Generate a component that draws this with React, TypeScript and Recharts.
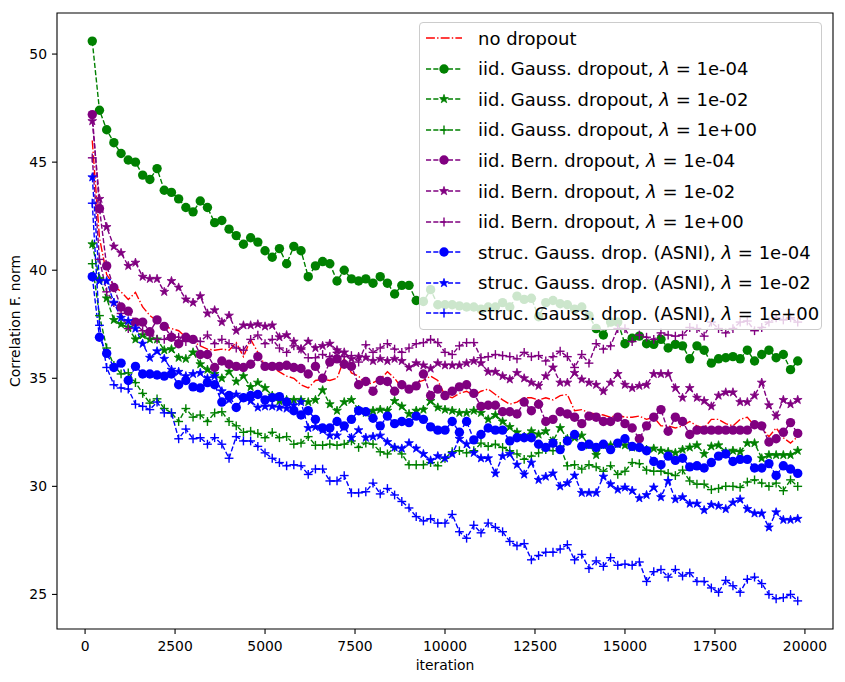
import React from 'react';
import {
  LineChart, Line, XAxis, YAxis, ReferenceArea, Label,
} from 'recharts';

// iterations: 200, 400, ... 19800
const iterations: number[] = Array.from({ length: 99 }, (_, i) => (i + 1) * 200);

const noDropout = [
  46.0, 41.5, 39.8, 39.3, 39.0, 38.65, 38.97, 38.3, 37.9, 37.65,
  37.4, 37.3, 37.2, 36.9, 36.7, 36.5, 36.35, 36.3, 36.35, 36.3,
  36.65, 36.0, 36.8, 36.2, 35.6, 35.5, 35.3, 35.1, 35.0, 34.7,
  34.55, 34.9, 34.95, 34.9, 35.0, 35.9, 35.25, 35.1, 34.7, 34.8,
  34.95, 35.3, 35.0, 34.55, 34.5, 34.8, 34.9, 35.1, 34.9, 34.2,
  34.1, 34.3, 34.4, 34.2, 34.4, 34.5, 34.25, 34.0, 33.8, 33.9,
  34.1, 34.1, 34.0, 34.1, 34.0, 34.2, 34.25, 33.5, 33.55, 33.4,
  33.35, 33.3, 33.2, 33.3, 33.2, 33.2, 33.25, 33.1, 33.2, 32.8,
  32.8, 32.7, 32.8, 33.0, 32.8, 32.7, 33.1, 33.1, 32.9, 32.8,
  33.1, 33.2, 32.8, 32.7, 32.3, 32.7, 32.25, 32.0, 32.3,
];

const gaussE4 = [
  50.6, 47.4, 46.5, 45.9, 45.4, 45.1, 45.0, 44.4, 44.2, 44.7,
  43.7, 43.6, 43.3, 42.9, 42.7, 43.2, 42.9, 42.2, 42.3, 41.9,
  41.6, 41.2, 41.5, 41.3, 40.9, 40.6, 41.0, 40.3, 41.1, 40.9,
  39.7, 40.2, 40.4, 40.3, 39.5, 40.0, 39.6, 39.5, 39.6, 39.4,
  39.7, 39.4, 38.9, 39.3, 39.3, 38.6, 38.55, 39.1, 38.4, 38.4,
  38.4, 38.35, 38.3, 38.3, 38.2, 38.3, 38.3, 38.5, 38.3, 38.8,
  38.65, 38.7, 37.85, 38.5, 38.6, 38.45, 38.4, 38.2, 38.3, 37.9,
  37.3, 37.0, 37.6, 37.6, 36.6, 36.85, 36.95, 36.6, 36.57, 36.8,
  36.4, 36.57, 36.5, 35.9, 36.5, 36.3, 35.7, 35.9, 35.95, 36.0,
  35.9, 36.3, 35.8, 36.1, 36.3, 35.95, 36.1, 35.4, 35.8,
];

const gaussE2 = [
  41.2, 39.6, 38.7, 37.7, 37.5, 37.35, 36.8, 37.0, 36.8, 36.8,
  36.3, 36.35, 35.95, 35.9, 36.2, 35.65, 35.4, 35.2, 35.0, 35.3,
  34.85, 35.1, 34.6, 34.8, 34.55, 34.2, 33.95, 34.0, 34.0, 34.0,
  33.9, 34.0, 34.45, 33.8, 33.5, 33.9, 34.0, 33.55, 33.4, 33.5,
  33.55, 33.5, 33.95, 33.7, 33.35, 33.5, 33.55, 33.95, 33.65, 33.55,
  33.5, 33.4, 33.4, 33.5, 33.4, 33.1, 33.3, 33.0, 32.75, 32.5,
  32.3, 32.55, 32.4, 32.55, 32.1, 32.7, 32.2, 32.25, 32.35, 31.9,
  31.45, 31.9, 31.9, 31.95, 31.9, 31.8, 31.8, 31.7, 31.75, 31.65,
  31.6, 31.55, 31.7, 31.8, 31.9, 31.5, 31.85, 31.9, 31.6, 31.65,
  31.6, 32.0, 32.0, 31.3, 31.45, 31.45, 31.45, 31.45, 31.65,
];

const gaussE0 = [
  40.3, 37.9, 36.4, 35.6, 35.2, 35.25, 34.8, 34.3, 33.85, 34.05,
  33.6, 33.4, 33.0, 33.6, 33.2, 33.3, 33.0, 33.4, 33.45, 33.0,
  32.8, 32.5, 32.55, 32.45, 32.25, 32.5, 32.25, 32.3, 31.95, 32.0,
  32.3, 31.9, 31.9, 31.95, 31.9, 31.95, 32.1, 31.8, 32.0, 31.95,
  31.6, 31.5, 31.8, 31.5, 31.0, 31.0, 31.0, 31.1, 30.95, 31.3,
  31.6, 31.65, 31.55, 31.65, 32.0, 31.85, 31.95, 31.8, 31.65, 31.5,
  31.25, 31.4, 31.55, 31.7, 31.65, 31.85, 30.95, 31.0, 30.8, 31.0,
  30.9, 30.7, 30.95, 30.55, 30.7, 31.1, 31.05, 30.75, 30.7, 30.7,
  30.6, 30.5, 30.75, 30.25, 30.1, 30.1, 29.85, 29.9, 30.0, 30.0,
  29.95, 30.2, 30.3, 30.15, 30.0, 30.15, 29.8, 30.3, 30.0,
];

const bernE4 = [
  47.2, 42.85, 40.2, 39.2, 38.3, 38.1, 37.6, 37.6, 37.15, 37.7,
  37.4, 36.9, 36.6, 36.9, 36.8, 36.1, 36.1, 35.5, 35.8, 35.65,
  35.55, 35.5, 35.65, 36.0, 35.55, 35.55, 35.55, 35.6, 35.5, 35.45,
  35.2, 35.55, 35.0, 35.75, 35.9, 35.65, 35.55, 34.7, 34.85, 34.4,
  34.9, 34.85, 34.4, 34.7, 34.5, 34.65, 35.2, 34.2, 34.5, 34.2,
  34.4, 34.6, 34.7, 34.3, 33.7, 33.75, 33.75, 33.45, 33.45, 33.35,
  33.9, 33.5, 33.8, 33.0, 33.1, 33.45, 33.35, 33.2, 32.9, 33.25,
  33.2, 33.0, 33.0, 33.2, 32.9, 32.7, 32.2, 32.8, 33.2, 33.55,
  32.55, 33.2, 33.0, 32.4, 32.6, 32.6, 32.6, 32.6, 32.6, 32.6,
  32.6, 32.6, 32.85, 32.8, 32.05, 32.2, 32.5, 32.95, 32.45,
];

const bernE2 = [
  46.9, 43.3, 42.0, 41.1, 40.8, 40.2, 40.35, 39.7, 39.6, 39.6,
  39.0, 39.5, 39.2, 38.65, 38.5, 38.8, 38.0, 38.15, 37.6, 37.9,
  37.2, 37.45, 37.45, 37.5, 37.4, 37.45, 36.9, 37.0, 36.7, 36.35,
  36.7, 36.4, 36.5, 36.6, 36.3, 36.2, 35.9, 36.0, 35.96, 35.8,
  35.9, 35.8, 35.9, 35.8, 35.5, 35.7, 35.6, 35.45, 35.7, 35.6,
  35.6, 35.6, 35.7, 35.8, 35.7, 35.3, 35.3, 35.1, 34.95, 35.25,
  35.0, 34.8, 34.65, 35.1, 35.5, 34.8, 34.8, 35.25, 34.95, 34.8,
  34.7, 34.4, 34.8, 35.2, 34.7, 34.55, 34.65, 34.7, 35.2, 35.2,
  35.2, 34.55, 34.1, 34.55, 34.1, 33.95, 33.7, 34.2, 34.35, 34.35,
  33.9, 33.9, 34.2, 34.8, 33.75, 33.25, 34.0, 33.8, 34.0,
];

const bernE0 = [
  45.2, 40.5, 39.0, 38.5, 38.0, 37.3, 37.5, 37.2, 37.0, 36.8,
  36.8, 37.0, 36.9, 36.7, 36.8, 36.7, 37.0, 36.6, 36.8, 36.6,
  36.4, 36.3, 36.8, 37.0, 36.6, 36.8, 36.4, 36.2, 36.5, 36.35,
  35.95, 35.95, 36.1, 36.0, 36.2, 36.0, 36.05, 35.75, 36.55, 36.2,
  36.4, 36.6, 36.35, 36.2, 36.4, 36.6, 36.65, 36.8, 36.65, 36.2,
  36.1, 36.5, 36.65, 36.65, 35.95, 36.0, 36.1, 36.05, 36.0, 35.9,
  36.2, 36.0, 36.05, 35.8, 36.0, 36.25, 36.0, 35.5, 36.1, 35.7,
  36.6, 36.35, 36.5, 37.3, 37.3, 36.7, 37.0, 36.9, 36.8, 37.1,
  37.0, 36.95, 37.0, 37.35, 37.3, 36.95, 37.6, 37.3, 37.1, 37.3,
  37.6, 37.65, 37.2, 37.35, 37.6, 37.8, 37.7, 37.8, 37.6,
];

const asniE4 = [
  39.7, 36.9, 36.15, 35.5, 35.7, 34.9, 35.55, 35.2, 35.2, 35.15,
  35.1, 35.2, 34.7, 34.9, 34.6, 34.55, 34.8, 34.7, 33.9, 34.2,
  33.65, 34.1, 34.2, 34.25, 34.0, 34.1, 34.15, 33.9, 33.5, 33.3,
  33.5, 33.1, 32.7, 32.7, 33.0, 32.8, 33.1, 33.5, 33.45, 33.15,
  32.8, 33.25, 32.9, 33.0, 32.95, 33.25, 33.1, 32.75, 32.6, 32.6,
  33.0, 32.5, 33.0, 32.15, 32.4, 32.7, 32.6, 32.6, 32.1, 32.25,
  32.25, 32.25, 31.95, 31.8, 32.0, 31.7, 32.1, 32.4, 31.85, 31.95,
  31.8, 31.95, 31.7, 32.0, 32.2, 31.85, 31.8, 31.65, 31.15, 31.0,
  31.4, 31.2, 31.3, 30.9, 30.95, 30.85, 31.1, 31.4, 31.5, 31.15,
  31.25, 31.25, 30.85, 30.85, 31.05, 30.5, 30.95, 30.8, 30.6,
];

const asniE2 = [
  44.3, 39.5, 39.5, 38.5, 37.8, 37.65, 37.3, 36.6, 35.95, 36.25,
  35.9, 35.4, 35.3, 35.1, 35.2, 35.25, 35.0, 35.1, 34.4, 34.0,
  34.25, 34.1, 33.95, 33.65, 33.7, 33.7, 33.65, 33.6, 33.75, 33.9,
  32.7, 32.75, 32.6, 32.35, 32.35, 32.75, 32.25, 32.6, 32.25, 32.3,
  32.35, 32.05, 31.8, 31.75, 32.0, 31.75, 31.5, 31.2, 31.4, 31.3,
  31.5, 32.2, 31.95, 31.55, 31.3, 31.3, 30.6, 31.4, 31.5, 31.0,
  30.55, 31.1, 30.3, 30.45, 30.6, 30.0, 30.15, 30.5, 29.7, 29.7,
  29.7, 30.45, 30.1, 29.85, 29.95, 29.8, 29.45, 29.6, 29.95, 29.5,
  30.25, 29.4, 29.5, 29.2, 29.2, 28.9, 29.15, 29.1, 28.95, 29.25,
  29.4, 28.95, 28.75, 28.75, 28.1, 28.8, 28.45, 28.45, 28.5,
];

const asniE0 = [
  43.1, 37.45, 35.5, 34.7, 34.55, 34.5, 33.8, 33.7, 33.55, 33.9,
  33.4, 33.4, 32.2, 32.65, 32.2, 32.25, 31.95, 32.25, 31.95, 31.3,
  32.3, 32.1, 32.1, 31.85, 31.55, 31.3, 31.1, 30.95, 31.0, 30.95,
  30.55, 30.8, 30.8, 30.25, 30.25, 30.5, 29.7, 29.7, 29.75, 30.15,
  29.65, 29.9, 29.6, 29.3, 29.0, 28.6, 28.4, 28.5, 28.3, 28.3,
  28.7, 27.9, 27.6, 28.2, 27.85, 28.3, 28.1, 27.9, 27.45, 27.25,
  27.35, 26.6, 26.8, 26.95, 26.95, 27.1, 27.3, 26.6, 26.85, 26.2,
  26.55, 26.3, 26.7, 26.35, 26.4, 26.35, 26.5, 25.6, 26.05, 26.15,
  25.8, 26.15, 25.85, 26.0, 25.6, 25.6, 25.3, 25.1, 25.65, 25.4,
  25.1, 25.7, 25.8, 25.5, 25.0, 24.8, 24.85, 25.0, 24.7,
];

const xTicks = [0, 2500, 5000, 7500, 10000, 12500, 15000, 17500, 20000];
const yTicks = [25, 30, 35, 40, 45, 50];

type MarkerKind = 'none' | 'circle' | 'star' | 'plus';

interface SeriesDef {
  key: string;
  values: number[];
  color: string;
  marker: MarkerKind;
  dash: string;
  name: string;
  lam?: string;
}

const RED = '#ff0000';
const GREEN = '#008000';
const PURPLE = '#800080';
const BLUE = '#0000ff';
const DASH = '5.1 2.2';

const series: SeriesDef[] = [
  { key: 'none', values: noDropout, color: RED, marker: 'none', dash: '8.9 2.2 1.4 2.2', name: 'no dropout' },
  { key: 'g4', values: gaussE4, color: GREEN, marker: 'circle', dash: DASH, name: 'iid. Gauss. dropout, ', lam: '1e-04' },
  { key: 'g2', values: gaussE2, color: GREEN, marker: 'star', dash: DASH, name: 'iid. Gauss. dropout, ', lam: '1e-02' },
  { key: 'g0', values: gaussE0, color: GREEN, marker: 'plus', dash: DASH, name: 'iid. Gauss. dropout, ', lam: '1e+00' },
  { key: 'b4', values: bernE4, color: PURPLE, marker: 'circle', dash: DASH, name: 'iid. Bern. dropout, ', lam: '1e-04' },
  { key: 'b2', values: bernE2, color: PURPLE, marker: 'star', dash: DASH, name: 'iid. Bern. dropout, ', lam: '1e-02' },
  { key: 'b0', values: bernE0, color: PURPLE, marker: 'plus', dash: DASH, name: 'iid. Bern. dropout, ', lam: '1e+00' },
  { key: 's4', values: asniE4, color: BLUE, marker: 'circle', dash: DASH, name: 'struc. Gauss. drop. (ASNI), ', lam: '1e-04' },
  { key: 's2', values: asniE2, color: BLUE, marker: 'star', dash: DASH, name: 'struc. Gauss. drop. (ASNI), ', lam: '1e-02' },
  { key: 's0', values: asniE0, color: BLUE, marker: 'plus', dash: DASH, name: 'struc. Gauss. drop. (ASNI), ', lam: '1e+00' },
];

const data = iterations.map((it, i) => {
  const row: Record<string, number> = { iter: it };
  series.forEach((s) => { row[s.key] = s.values[i]; });
  return row;
});

const FONT = '"DejaVu Sans", sans-serif';

function starPath(cx: number, cy: number, r: number) {
  const inner = r * 0.382;
  const pts: string[] = [];
  for (let k = 0; k < 10; k++) {
    const rad = k % 2 === 0 ? r : inner;
    const a = -Math.PI / 2 + (k * Math.PI) / 5;
    pts.push(`${(cx + rad * Math.cos(a)).toFixed(2)},${(cy + rad * Math.sin(a)).toFixed(2)}`);
  }
  return `M${pts.join('L')}Z`;
}

function Marker({ kind, cx, cy, color }: { kind: MarkerKind; cx: number; cy: number; color: string }) {
  if (kind === 'circle') return <circle cx={cx} cy={cy} r={4.7} fill={color} />;
  if (kind === 'star') {
    return <path d={starPath(cx, cy, 4.6)} fill={color} stroke={color} strokeWidth={0.8} strokeLinejoin="miter" />;
  }
  if (kind === 'plus') {
    return (
      <g stroke={color} strokeWidth={1.4}>
        <line x1={cx - 4.4} y1={cy} x2={cx + 4.4} y2={cy} />
        <line x1={cx} y1={cy - 4.4} x2={cx} y2={cy + 4.4} />
      </g>
    );
  }
  return null;
}

function makeDot(s: SeriesDef) {
  if (s.marker === 'none') return false;
  return (props: any) => {
    const { cx, cy, index } = props;
    if (cx == null || cy == null) return <g key={`${s.key}-${index}`} />;
    return (
      <g key={`${s.key}-${index}`}>
        <Marker kind={s.marker} cx={cx} cy={cy} color={s.color} />
      </g>
    );
  };
}

function LegendBox() {
  return (
    <div
      style={{
        position: 'absolute', left: 419, top: 22, width: 403, height: 308,
        background: 'rgba(255,255,255,0.8)', border: '1px solid #cccccc',
        borderRadius: 4, boxSizing: 'border-box', fontFamily: FONT, fontSize: 18,
        color: '#000',
      }}
    >
      {series.map((s, i) => (
        <div
          key={s.key}
          style={{
            position: 'absolute', left: 0, top: i * 30.6, height: 30, width: '100%',
            display: 'flex', alignItems: 'center',
          }}
        >
          <svg width={40} height={14} style={{ marginLeft: 5, marginRight: 13, flex: 'none' }}>
            <line x1={1} y1={7} x2={37} y2={7} stroke={s.color} strokeWidth={1.4} strokeDasharray={s.dash} />
            <Marker kind={s.marker} cx={19} cy={7} color={s.color} />
          </svg>
          <span style={{ whiteSpace: 'nowrap' }}>
            {s.name}
            {s.lam && (
              <>
                <i>λ</i> = {s.lam}
              </>
            )}
          </span>
        </div>
      ))}
    </div>
  );
}

export default function App() {
  const tickStyle = { fill: '#000', fontSize: 13.9, fontFamily: FONT };
  return (
    <div style={{ position: 'absolute', left: 0, top: 0, width: 845, height: 682, background: '#fff' }}>
      <LineChart
        width={845}
        height={682}
        data={data}
        margin={{ top: 13, right: 12, bottom: 0, left: 0 }}
      >
        <XAxis
          dataKey="iter"
          type="number"
          domain={[-780, 20780]}
          ticks={xTicks}
          allowDataOverflow
          height={53}
          tickSize={5}
          tickMargin={7}
          tick={tickStyle}
          tickLine={{ stroke: '#000', strokeWidth: 1.1 }}
          axisLine={false}
        >
          <Label
            content={() => (
              <text x={445} y={670} textAnchor="middle" fontSize={13.9} fontFamily={FONT} fill="#000">
                iteration
              </text>
            )}
          />
        </XAxis>
        <YAxis
          type="number"
          domain={[23.4, 51.9]}
          ticks={yTicks}
          allowDataOverflow
          width={57}
          tickSize={5}
          tickMargin={5}
          tick={tickStyle}
          tickLine={{ stroke: '#000', strokeWidth: 1.1 }}
          axisLine={false}
        >
          <Label
            content={() => (
              <text
                x={20}
                y={321}
                transform="rotate(-90 20 321)"
                textAnchor="middle"
                fontSize={13.9}
                fontFamily={FONT}
                fill="#000"
              >
                Correlation F. norm
              </text>
            )}
          />
        </YAxis>
        {series.map((s) => (
          <Line
            key={s.key}
            dataKey={s.key}
            type="linear"
            stroke={s.color}
            strokeWidth={1.4}
            strokeDasharray={s.dash}
            dot={makeDot(s) as any}
            activeDot={false}
            isAnimationActive={false}
          />
        ))}
        <ReferenceArea
          x1={-780}
          x2={20780}
          y1={23.4}
          y2={51.9}
          fill="none"
          fillOpacity={0}
          stroke="#000"
          strokeWidth={1.1}
          ifOverflow="visible"
        />
      </LineChart>
      <LegendBox />
    </div>
  );
}
